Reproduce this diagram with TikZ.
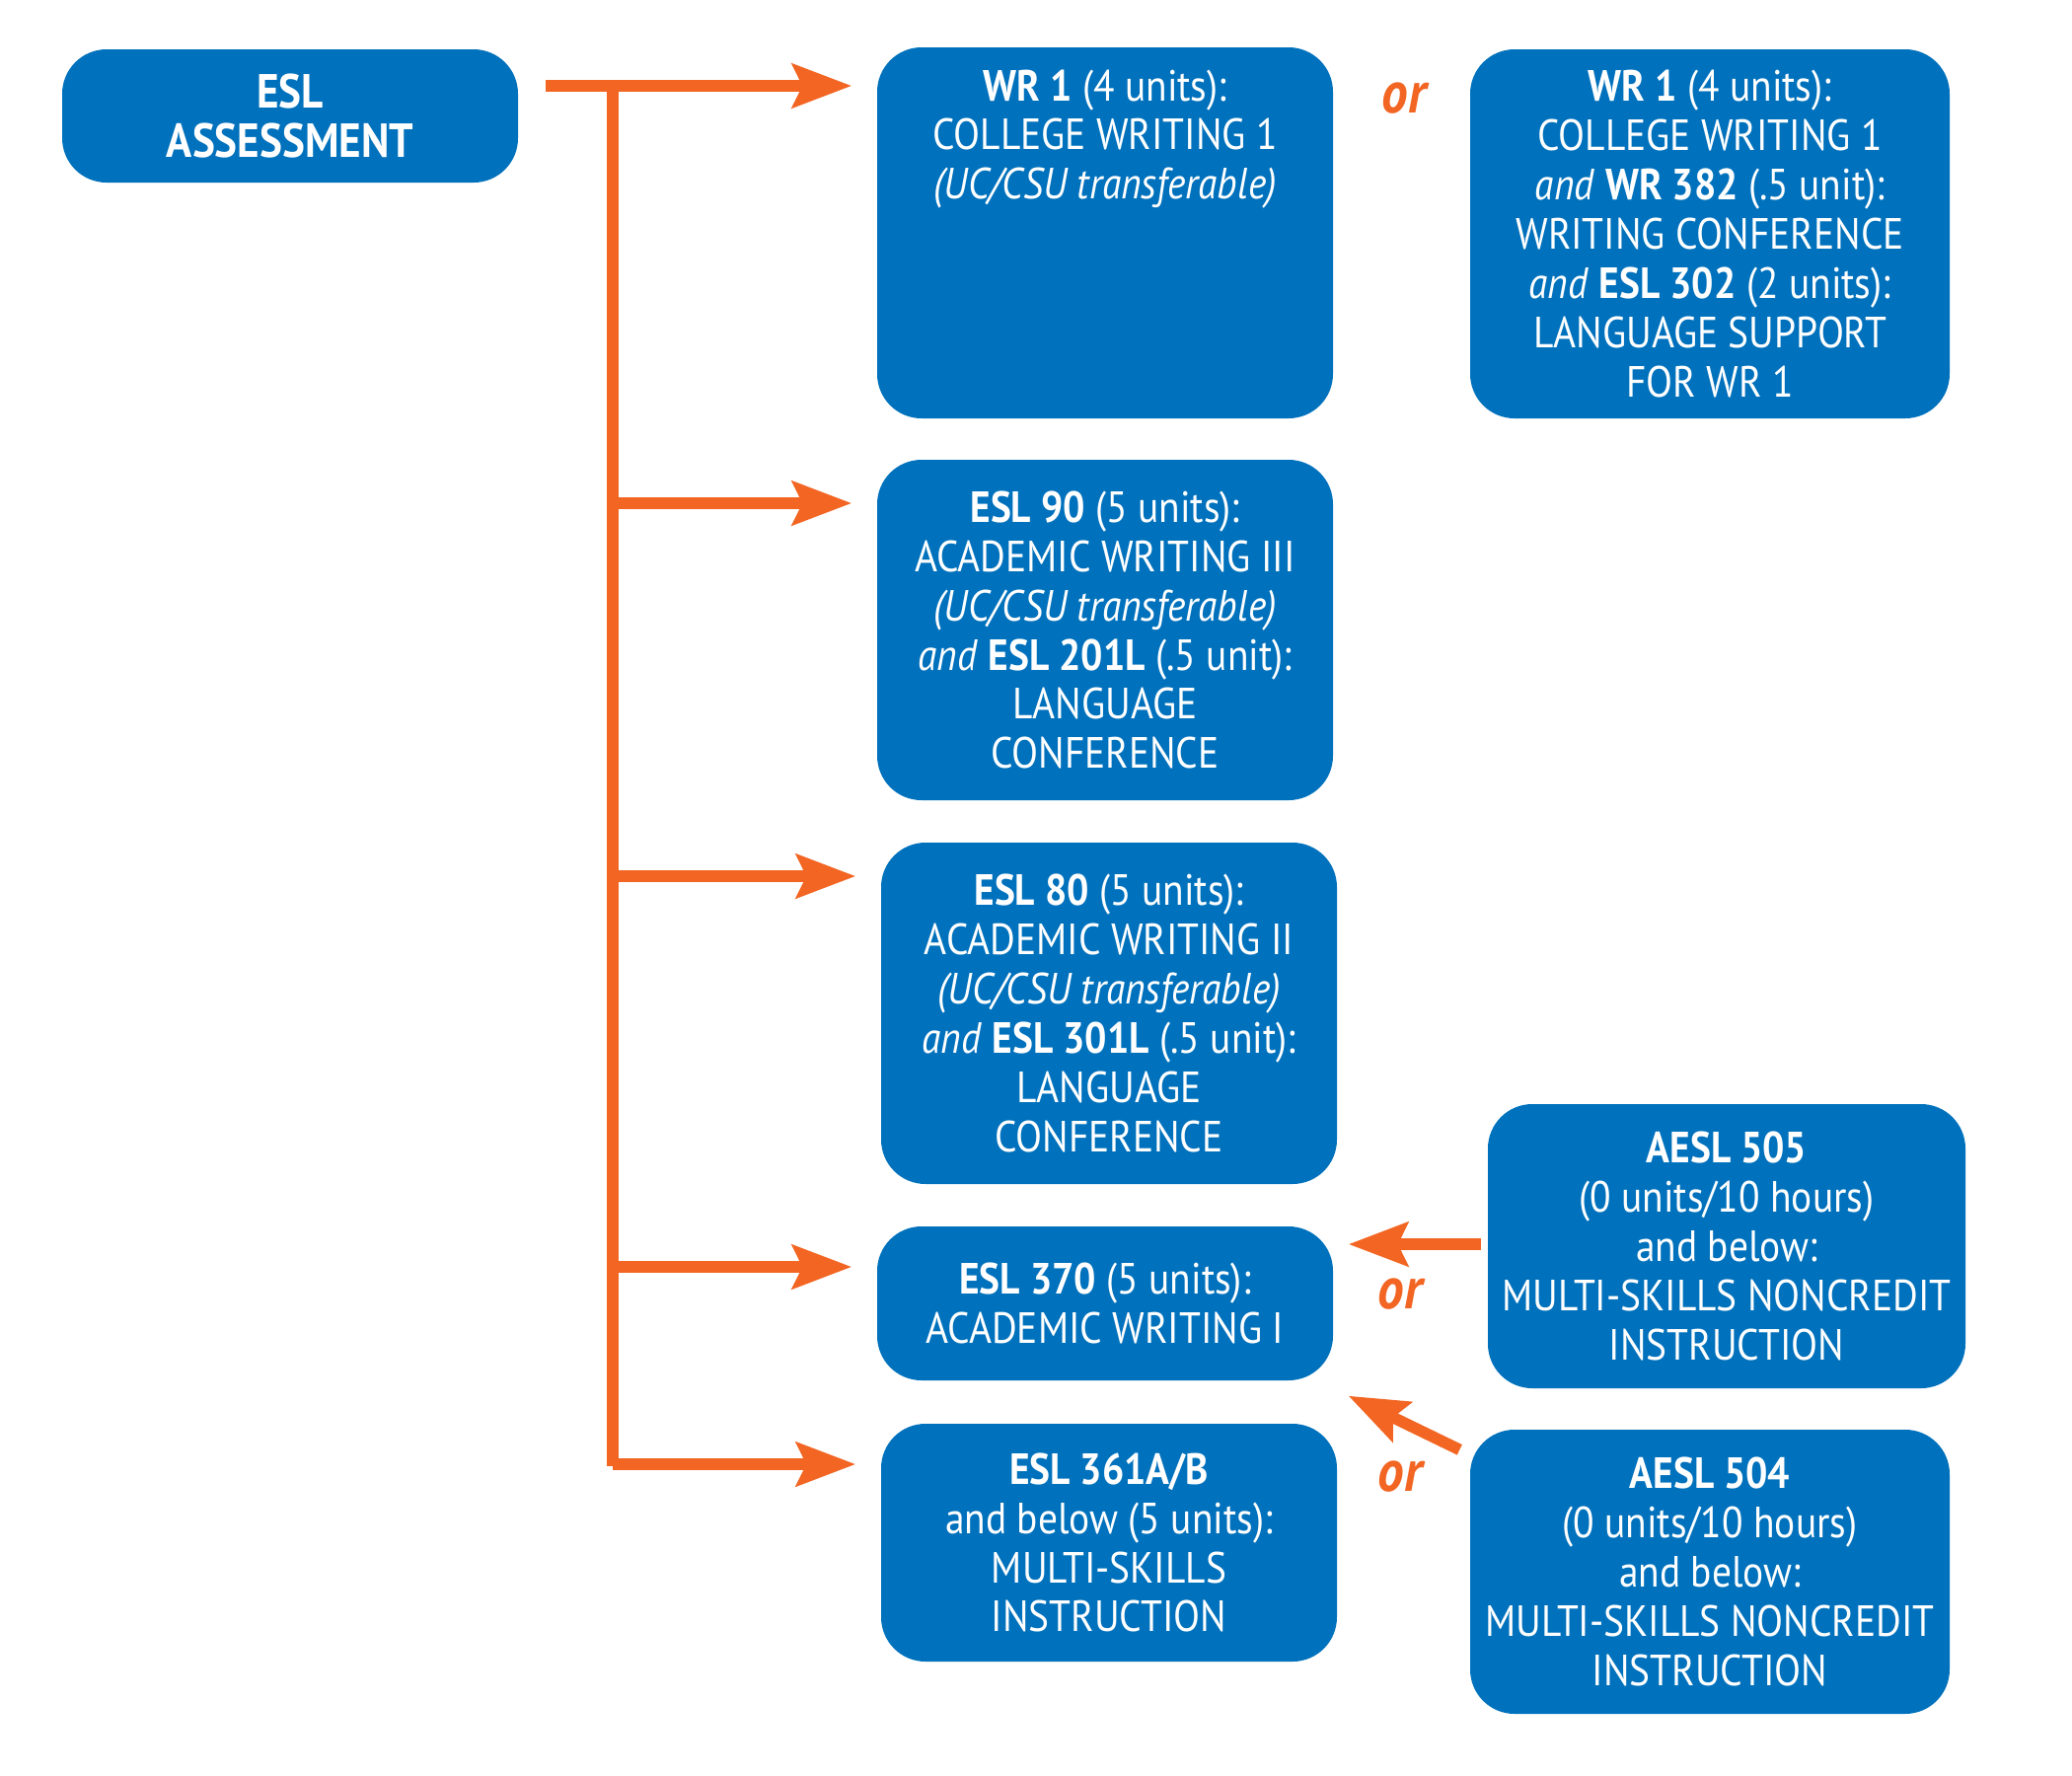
\documentclass[tikz,border=0pt]{standalone}
\usepackage{fontspec}
\setmainfont[FakeStretch=0.89]{PT Sans}
\usetikzlibrary{arrows.meta}
\definecolor{eslblue}{HTML}{0071BC}
\definecolor{eslorange}{HTML}{F26522}

\begin{document}
\begin{tikzpicture}
	\tikzstyle{course} = [rectangle, rounded corners=0.45cm, fill=eslblue, text=white, align=center, inner sep=0pt, minimum width=4.62cm, font=\fontsize{12.6}{14.2}\selectfont]
	\tikzstyle{flow}   = [draw=eslorange, line width=3.3pt, -{Stealth[length=6mm,width=4.4mm,inset=1mm]}]
	\tikzstyle{trunk}  = [draw=eslorange, line width=3.3pt]
	\tikzstyle{orword} = [text=eslorange, font=\fontsize{17}{20}\selectfont\bfseries\itshape]

	\useasboundingbox (0,0) rectangle (21,-18);

	% boxes
	\node[course, minimum height=1.35cm, font=\fontsize{13.8}{14.2}\selectfont\bfseries] (assess) at (2.94,-1.175) {ESL\\ ASSESSMENT};
	\node[course, minimum height=3.76cm] (wr) at (11.20,-2.36) {\textbf{WR 1} (4 units):\\ COLLEGE WRITING 1\\ \textit{(UC/CSU transferable)}\\ \mbox{}\\ \mbox{}\\ \mbox{}\\ \mbox{}};
	\node[course, minimum width=4.86cm, minimum height=3.74cm] (wrplus) at (17.33,-2.37) {\textbf{WR 1} (4 units):\\ COLLEGE WRITING 1\\ \textit{and} \textbf{WR 382} (.5 unit):\\ WRITING CONFERENCE\\ \textit{and} \textbf{ESL 302} (2 units):\\ LANGUAGE SUPPORT\\ FOR WR 1};
	\node[course, minimum height=3.45cm] (esl90) at (11.20,-6.385) {\textbf{ESL 90} (5 units):\\ ACADEMIC WRITING III\\ \textit{(UC/CSU transferable)}\\ \textit{and} \textbf{ESL 201L} (.5 unit):\\ LANGUAGE\\ CONFERENCE};
	\node[course, minimum height=3.46cm] (esl80) at (11.24,-10.27) {\textbf{ESL 80} (5 units):\\ ACADEMIC WRITING II\\ \textit{(UC/CSU transferable)}\\ \textit{and} \textbf{ESL 301L} (.5 unit):\\ LANGUAGE\\ CONFERENCE};
	\node[course, minimum height=1.56cm] (esl370) at (11.20,-13.21) {\textbf{ESL 370} (5 units):\\ ACADEMIC WRITING I};
	\node[course, minimum height=2.41cm] (esl361) at (11.24,-15.635) {\textbf{ESL 361A/B}\\ and below (5 units):\\ MULTI-SKILLS\\ INSTRUCTION};
	\node[course, minimum width=4.84cm, minimum height=2.88cm] (aesl505) at (17.50,-12.63) {\textbf{AESL 505}\\ (0 units/10 hours)\\ and below:\\ MULTI-SKILLS NONCREDIT\\ INSTRUCTION};
	\node[course, minimum width=4.86cm, minimum height=2.88cm] (aesl504) at (17.33,-15.93) {\textbf{AESL 504}\\ (0 units/10 hours)\\ and below:\\ MULTI-SKILLS NONCREDIT\\ INSTRUCTION};

	\node[orword] (or1) at (14.23,-1.00) {or};
	\node[orword] (or2) at (14.19,-13.12) {or};
	\node[orword] (or3) at (14.19,-14.97) {or};

	% trunk from the assessment
	\coordinate (start) at (5.53,-0.87);
	\coordinate (twr) at (6.21,-0.87);
	\coordinate (tend) at (6.21,-14.86);
	\draw[trunk] (twr) -- (tend);
	\draw[flow, shorten >=0.25cm] (start) -- (start -| wr.west);

	\foreach \b/\y in {esl90/-5.10, esl80/-8.88, esl370/-12.84, esl361/-14.84}
	{
		\coordinate (t\b) at (6.21,\y);
		\draw[flow, shorten >=0.25cm] (t\b) -- (t\b -| \b.west);
	}

	% noncredit paths
	\coordinate (side) at (15.00,-12.61);
	\draw[flow, shorten <=0.06cm, shorten >=0.15cm] (side -| aesl505.west) -- (side -| esl370.east);
	\draw[flow] ([shift={(-0.10,-0.21)}]aesl504.north west) -- ([shift={(0.15,-0.15)}]esl370.south east);
\end{tikzpicture}
\end{document}
